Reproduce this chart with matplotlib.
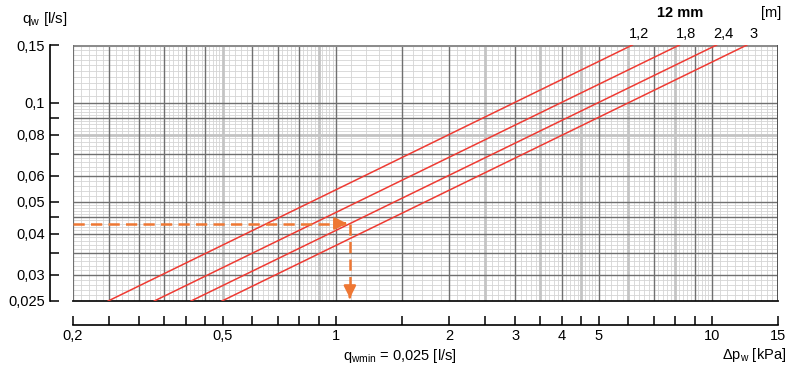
import numpy as np
import matplotlib
matplotlib.use("Agg")
import matplotlib.pyplot as plt

plt.rcParams['font.family'] = ['Liberation Sans', 'DejaVu Sans']
plt.rcParams['mathtext.fontset'] = 'custom'
plt.rcParams['mathtext.rm'] = 'Liberation Sans'

longueurs = ["1,2", "1,8", "2,4", "3"]          # [m]
dp_bas = [0.248, 0.329, 0.412, 0.498]           # kPa à q = 0,025
dp_haut = [6.15, 8.2, 10.3, 12.4]               # kPa à q = 0,15
q_bas = 0.025
q_haut = 0.15

q_lu = 0.043          # débit lu (flèche horizontale)
dp_lu = 1.09          # perte de charge lue (flèche verticale)

x_ticks = [0.2, 0.25, 0.3, 0.35, 0.4, 0.45, 0.5, 0.6, 0.7, 0.8, 0.9, 1,
           1.5, 2, 2.5, 3, 3.5, 4, 4.5, 5, 6, 7, 8, 9, 10, 15]
x_labels = {0.2: "0,2", 0.5: "0,5", 1: "1", 2: "2", 3: "3", 4: "4",
            5: "5", 10: "10", 15: "15"}
x_gris = [0.5, 0.9, 2.5, 3.5, 4.5, 6, 8]

y_ticks = [0.025, 0.03, 0.035, 0.04, 0.045, 0.05, 0.06, 0.07, 0.08,
           0.09, 0.1, 0.15]
y_labels = {0.025: "0,025", 0.03: "0,03", 0.04: "0,04", 0.05: "0,05",
            0.06: "0,06", 0.08: "0,08", 0.1: "0,1", 0.15: "0,15"}
y_gris = [0.08]

# pas des lignes fines de la grille
x_pas = [(0.2, 0.5, 0.01), (0.5, 1, 0.02), (1, 5, 0.1), (5, 10, 0.2), (10, 15, 0.5)]
y_pas = [(0.025, 0.05, 0.001), (0.05, 0.1, 0.002), (0.1, 0.15, 0.005)]

rouge = "#ee3b33"
orange = "#ee7733"


def valeurs_fines(pas):
    vals = []
    for a, b, s in pas:
        n = int(round((b - a) / s))
        vals += [a + i * s for i in range(1, n)]
    return vals


fig = plt.figure(figsize=(8, 3.76), dpi=100)
ax = fig.add_axes([73 / 800, 75 / 376, 705 / 800, 256 / 376])
ax.set_xscale('log')
ax.set_yscale('log')
ax.set_xlim(0.2, 15)
ax.set_ylim(q_bas, q_haut)

# grille fine
ax.vlines(valeurs_fines(x_pas), q_bas, q_haut, color="#d4d4d4", lw=0.6, zorder=1)
ax.hlines(valeurs_fines(y_pas), 0.2, 15, color="#d4d4d4", lw=0.6, zorder=1)

# grille principale
for v in x_ticks[1:-1]:
    if v in x_gris:
        ax.axvline(v, color="#c4c4c4", lw=2.0, zorder=2)
    else:
        ax.axvline(v, color="#707070", lw=1.0, zorder=3)
for v in y_ticks[1:-1]:
    if v in y_gris:
        ax.axhline(v, color="#c4c4c4", lw=2.0, zorder=2)
    else:
        ax.axhline(v, color="#707070", lw=1.0, zorder=3)

# cadre
ax.axhline(q_haut, color="#8c8c8c", lw=2.2, zorder=3)
ax.axvline(0.2, color="#707070", lw=1.6, zorder=3)
ax.axvline(15, color="#505050", lw=1.4, zorder=3)
ax.axhline(q_bas, color="#111111", lw=1.3, zorder=4, clip_on=False)

# courbes
for lab, x0, x1 in zip(longueurs, dp_bas, dp_haut):
    ax.plot([x0, x1], [q_bas, q_haut], color=rouge, lw=1.1, zorder=5)
    ax.annotate(lab, xy=(x1, q_haut), xytext=(5, 3), textcoords='offset points',
                ha='center', va='bottom', fontsize=10.5, annotation_clip=False)

# flèches de lecture
ax.plot([0.2, dp_lu * 0.97], [q_lu, q_lu], color=orange, lw=1.8,
        dashes=(4.5, 2.5), zorder=6)
ax.plot([dp_lu, dp_lu], [q_lu, q_bas * 1.04], color=orange, lw=1.8,
        dashes=(4.5, 2.5), zorder=6)
ax.annotate("", xy=(dp_lu, q_lu), xytext=(dp_lu * 0.95, q_lu),
            arrowprops=dict(arrowstyle='-|>', color=orange, lw=1.8,
                            mutation_scale=18), zorder=7)
ax.annotate("", xy=(dp_lu, q_bas), xytext=(dp_lu, q_bas * 1.05),
            arrowprops=dict(arrowstyle='-|>', color=orange, lw=1.8,
                            mutation_scale=18), zorder=7, annotation_clip=False)

# axes déportés
for s in ['top', 'right']:
    ax.spines[s].set_visible(False)
ax.spines['left'].set_position(('outward', 16.5))
ax.spines['bottom'].set_position(('outward', 17.3))
ax.spines['left'].set_linewidth(1.2)
ax.spines['bottom'].set_linewidth(1.2)

ax.set_xticks(x_ticks)
ax.set_xticklabels([x_labels.get(v, "") for v in x_ticks])
ax.set_xticks([], minor=True)
ax.set_yticks(y_ticks)
ax.set_yticklabels([y_labels.get(v, "") for v in y_ticks])
ax.set_yticks([], minor=True)
ax.tick_params(axis='x', direction='in', length=6.5, width=1.1, pad=3,
               labelsize=10.5)
ax.tick_params(axis='y', direction='in', length=6.5, width=1.1, pad=3.5,
               labelsize=10.5)
for v, t in zip(x_ticks, ax.xaxis.get_major_ticks()):
    if v in x_gris:
        t.tick1line.set_color("#999999")
for v, t in zip(y_ticks, ax.yaxis.get_major_ticks()):
    if v in y_gris:
        t.tick1line.set_color("#999999")

# textes
fig.text(22 / 800, 1 - 19 / 376, r"q$_\mathregular{w}$ [l/s]", fontsize=11,
         ha='left', va='center')
fig.text(786 / 800, 1 - 355 / 376, r"Δp$_\mathregular{w}$ [kPa]", fontsize=10.5,
         ha='right', va='center')
fig.text(400 / 800, 1 - 356 / 376, r"q$_\mathregular{wmin}$ = 0,025 [l/s]",
         fontsize=10.5, ha='center', va='center')
fig.text(680 / 800, 1 - 13 / 376, "12 mm", fontsize=10.5, fontweight='bold',
         ha='center', va='center')
fig.text(771 / 800, 1 - 13 / 376, "[m]", fontsize=10.5, ha='center', va='center')

fig.savefig("out.png", dpi=100)
